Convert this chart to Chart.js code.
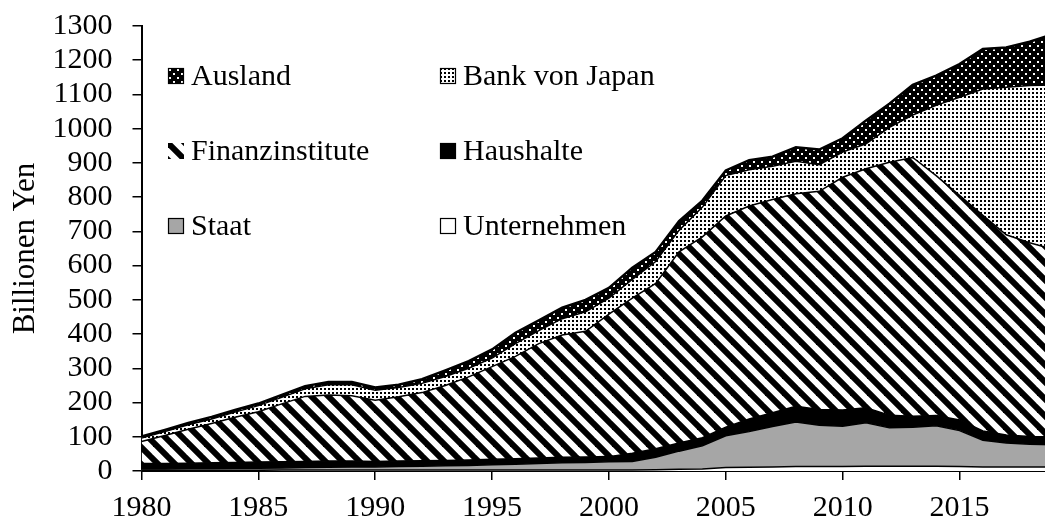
<!DOCTYPE html>
<html><head><meta charset="utf-8">
<script src="https://cdn.jsdelivr.net/npm/chart.js@4.4.1/dist/chart.umd.min.js"></script>
<style>html,body{margin:0;padding:0;overflow:hidden;background:#fff}#wrap{width:1056px;height:521px;position:relative}</style>
</head><body><div id="wrap"><canvas id="c" width="1056" height="521"></canvas></div>
<script>
const years = [1980,1981,1982,1983,1984,1985,1986,1987,1988,1989,1990,1991,1992,1993,1994,1995,1996,1997,1998,1999,2000,2001,2002,2003,2004,2005,2006,2007,2008,2009,2010,2011,2012,2013,2014,2015,2016,2017,2018,2019];
const unternehmen = [2,2,2,2,2,2,3,3,3,3,3,3,3,3,3,3,3,3,3,3,3,3,4,5,6,10,11,12,13,13,13,14,14,14,14,13,12,12,12,12];
const staat = [4,4,5,5,6,6,6,7,8,9,9,10,11,12,13,15,17,19,21,22,24,25,36,53,68,93,104,118,130,121,118,127,112,114,118,105,78,70,66,65];
const haushalte = [16,16,16,17,17,18,18,18,18,17,16,16,16,16,16,16,16,16,16,16,15,24,25,24,23,25,37,40,46,46,47,44,37,32,30,31,27,23,23,23];
const finanzinstitute = [64,82,99,115,132,147,169,190,193,191,179,188,199,219,243,271,299,334,357,367,416,453,483,558,587,617,622,623,621,637,680,698,739,756,701,656,630,585,566,548];
const bankVonJapan = [10,11,13,13,15,18,19,22,30,32,29,27,27,26,25,25,37,38,48,57,47,55,64,63,87,118,106,97,95,78,74,73,102,124,205,287,369,431,459,480];
const ausland = [5,5,5,6,6,6,7,8,8,8,8,8,12,18,21,25,32,30,32,35,30,34,28,27,19,15,28,28,41,44,40,68,69,88,87,97,117,116,128,148];
const xTickValues = [1980,1985,1990,1995,2000,2005,2010,2015];
const yTitle = 'Billionen Yen';

const FONT = "'Liberation Serif','Times New Roman',serif";

function makePattern(w, h, draw) {
  const c = document.createElement('canvas');
  c.width = w; c.height = h;
  const x = c.getContext('2d');
  draw(x, w, h);
  return x.createPattern(c, 'repeat');
}
const stripePat = makePattern(17, 17, (x, w) => {
  x.fillStyle = '#fff'; x.fillRect(0, 0, w, w);
  x.strokeStyle = '#000'; x.lineWidth = 6;
  for (let k = -1; k <= 1; k++) {
    x.beginPath(); x.moveTo(k * w - w, -w); x.lineTo(k * w + 2 * w, 2 * w); x.stroke();
  }
});
const dotPat = makePattern(4, 4, (x) => {
  x.fillStyle = '#fff'; x.fillRect(0, 0, 4, 4);
  x.fillStyle = '#000'; x.fillRect(0, 0, 2, 2);
});
const darkDotPat = makePattern(8, 8, (x) => {
  x.fillStyle = '#000'; x.fillRect(0, 0, 8, 8);
  x.fillStyle = '#fff'; x.fillRect(1, 1, 2, 2); x.fillRect(5, 5, 2, 2);
});

function pts(arr) { return years.map((y, i) => ({ x: y, y: arr[i] })); }
function ds(label, arr, bg, fill, bw, legendBorder) {
  return { label, data: pts(arr), backgroundColor: bg, borderColor: '#000', borderWidth: bw,
    fill, pointRadius: 0, tension: 0, legendBorder };
}
const datasets = [
  ds('Unternehmen', unternehmen, '#ffffff', 'origin', 1.5, true),
  ds('Staat', staat, '#a6a6a6', '-1', 1.5, true),
  ds('Haushalte', haushalte, '#000000', '-1', 1.5, true),
  ds('Finanzinstitute', finanzinstitute, stripePat, '-1', 1.5, false),
  ds('Bank von Japan', bankVonJapan, dotPat, '-1', 1.5, true),
  ds('Ausland', ausland, darkDotPat, '-1', 2.5, true)
];

const legendPlugin = {
  id: 'customLegend',
  afterDraw(chart) {
    const ctx = chart.ctx;
    const items = chart.data.datasets.slice().reverse();
    const colX = [168, 440], rowBase = [85, 160, 235], box = 16;
    ctx.save();
    ctx.font = '30px ' + FONT;
    ctx.textBaseline = 'alphabetic';
    ctx.textAlign = 'left';
    items.forEach((d, i) => {
      const bx = colX[i % 2], by = rowBase[Math.floor(i / 2)] - box - 1;
      ctx.save();
      ctx.translate(bx, by);
      ctx.fillStyle = d.backgroundColor;
      ctx.fillRect(0, 0, box, box);
      if (d.legendBorder) { ctx.strokeStyle = '#000'; ctx.lineWidth = 1.2; ctx.strokeRect(0.5, 0.5, box - 1, box - 1); }
      ctx.restore();
      ctx.fillStyle = '#000';
      ctx.fillText(d.label, bx + box + 7, rowBase[Math.floor(i / 2)]);
    });
    ctx.restore();
  }
};

new Chart(document.getElementById('c'), {
  type: 'line',
  data: { datasets },
  options: {
    responsive: false, animation: false, devicePixelRatio: 1,
    layout: { padding: { top: 26, right: 3, bottom: 0, left: 0 } },
    plugins: { legend: { display: false }, tooltip: { enabled: false } },
    scales: {
      x: {
        type: 'linear', min: 1980, max: 2019,
        afterBuildTicks: s => { s.ticks = xTickValues.map(v => ({ value: v })); },
        afterFit: s => { s.height = 50; s.paddingLeft = 0; s.paddingRight = 0; },
        ticks: { font: { family: FONT, size: 30 }, color: '#000', padding: 10, maxRotation: 0, autoSkip: false, callback: v => String(v) },
        grid: { drawOnChartArea: false, drawTicks: true, tickLength: 9, color: '#000', lineWidth: 1.5 },
        border: { color: '#000', width: 2 }
      },
      y: {
        stacked: true, min: 0, max: 1300,
        afterFit: s => { s.width = 141.5; s.paddingTop = 0; s.paddingBottom = 0; },
        ticks: { stepSize: 100, autoSkip: false, font: { family: FONT, size: 30 }, color: '#000', padding: 20, callback: v => String(v) },
        grid: { drawOnChartArea: false, drawTicks: true, tickLength: 9, color: '#000', lineWidth: 1.5 },
        border: { color: '#000', width: 2 },
        title: { display: true, text: yTitle, font: { family: FONT, size: 31 }, color: '#000', padding: { top: 7, bottom: 0 } }
      }
    }
  },
  plugins: [legendPlugin]
});
</script></body></html>
